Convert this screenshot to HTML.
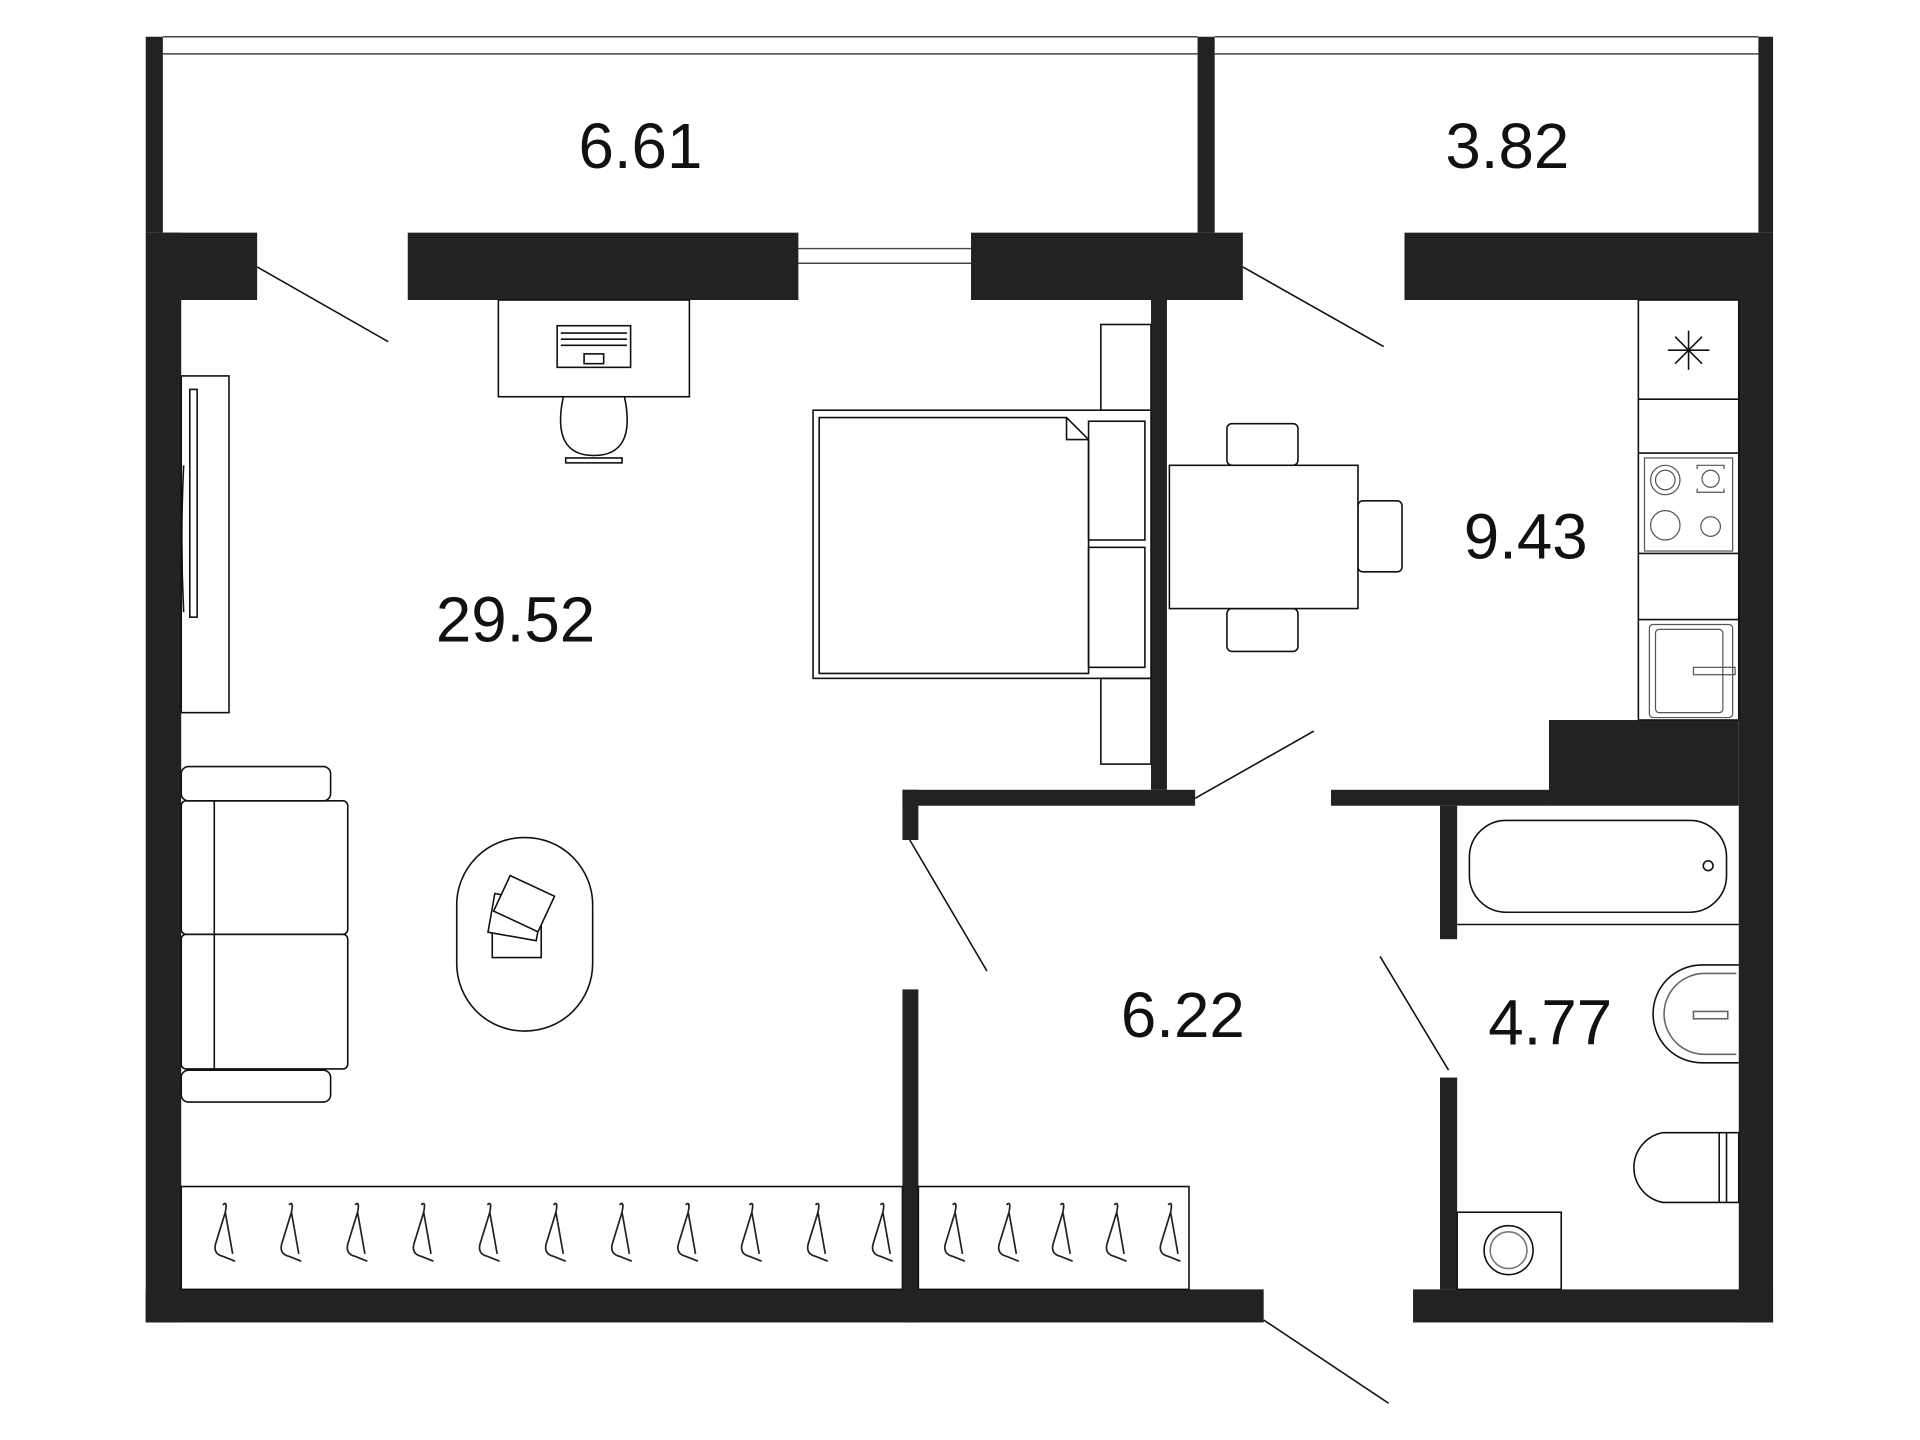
<!DOCTYPE html>
<html><head><meta charset="utf-8"><style>html,body{margin:0;padding:0;background:#fff}svg{display:block}</style></head>
<body>
<svg width="1920" height="1440" viewBox="0 0 1568 1176" xmlns="http://www.w3.org/2000/svg">
<defs>
<path id="h" d="M0 0 L-8 26 Q-10 34 -2 36 L8 40 M0 0 L6 34 M-2 -6 Q2 -10 0 0"/>
</defs>
<rect width="1568" height="1176" fill="#fff"/>
<g fill="#222">
<rect x="119" y="30" width="14" height="160"/>
<rect x="119" y="190" width="29" height="890"/>
<rect x="133" y="190" width="77" height="55"/>
<rect x="333" y="190" width="319" height="55"/>
<rect x="793" y="190" width="222" height="55"/>
<rect x="978" y="30" width="14" height="160"/>
<rect x="1147" y="190" width="301" height="55"/>
<rect x="1436" y="30" width="12" height="160"/>
<rect x="1420" y="245" width="28" height="835"/>
<rect x="940" y="245" width="13" height="400"/>
<rect x="737" y="645" width="239" height="13"/>
<rect x="737" y="645" width="13" height="41"/>
<rect x="737" y="808" width="13" height="272"/>
<rect x="1087" y="645" width="178" height="13"/>
<rect x="1265" y="588" width="155" height="70"/>
<rect x="1176" y="658" width="14" height="109"/>
<rect x="1176" y="880" width="14" height="173"/>
<rect x="119" y="1053" width="913" height="27"/>
<rect x="1154" y="1053" width="294" height="27"/>
</g>
<g stroke="#444" stroke-width="1.2" fill="none">
<line x1="133" y1="30" x2="978" y2="30"/><line x1="133" y1="44" x2="978" y2="44"/>
<line x1="992" y1="30" x2="1436" y2="30"/><line x1="992" y1="44" x2="1436" y2="44"/>
<line x1="652" y1="203" x2="793" y2="203"/><line x1="652" y1="215" x2="793" y2="215"/>
</g>
<g stroke="#111" stroke-width="1.3" fill="none">
<line x1="210" y1="218" x2="317" y2="279"/>
<line x1="1015" y1="218" x2="1130" y2="283"/>
<line x1="976" y1="652" x2="1073" y2="597"/>
<line x1="743" y1="686" x2="806" y2="793"/>
<line x1="1127" y1="781" x2="1183" y2="874"/>
<line x1="1032" y1="1078" x2="1134" y2="1146"/>
<rect x="407" y="245" width="156" height="79"/>
<rect x="455" y="266" width="60" height="34"/>
<line x1="458" y1="272" x2="512" y2="272"/><line x1="458" y1="277" x2="512" y2="277"/><line x1="458" y1="282" x2="512" y2="282"/>
<rect x="477" y="289" width="16" height="8"/>
<path d="M460 324 Q450 372 485 372 Q520 372 510 324"/>
<rect x="462" y="374" width="46" height="4"/>
<rect x="148" y="307" width="39" height="275"/>
<rect x="155" y="318" width="6" height="186"/>
<path d="M150 380 Q147 440 150 500"/>
<rect x="899" y="265" width="41" height="70"/>
<rect x="899" y="554" width="41" height="70"/>
<rect x="664" y="335" width="276" height="219"/>
<path d="M669 341 H871 L889 359 V550 H669 Z"/>
<path d="M871 341 V359 H889"/>
<rect x="889" y="344" width="46" height="97"/>
<rect x="889" y="447" width="46" height="98"/>
<rect x="1002" y="346" width="58" height="34" rx="4"/>
<rect x="1002" y="497" width="58" height="35" rx="4"/>
<rect x="1109" y="409" width="36" height="58" rx="4"/>
<rect x="955" y="380" width="154" height="117" fill="#fff"/>
<rect x="1338" y="245" width="82" height="343"/>
<line x1="1338" y1="326" x2="1420" y2="326"/>
<line x1="1338" y1="370" x2="1420" y2="370"/>
<line x1="1338" y1="452" x2="1420" y2="452"/>
<line x1="1338" y1="506" x2="1420" y2="506"/>
<line x1="1362" y1="286" x2="1396" y2="286"/><line x1="1379" y1="270" x2="1379" y2="302"/>
<line x1="1368" y1="275" x2="1390" y2="297"/><line x1="1390" y1="275" x2="1368" y2="297"/>
<g stroke="#555" stroke-width="1">
<rect x="1343" y="374" width="72" height="76"/>
<circle cx="1360" cy="392" r="12"/><circle cx="1360" cy="392" r="8"/>
<circle cx="1397" cy="391" r="7"/>
<path d="M1386 383 V380 H1408 V383 M1386 399 V402 H1408 V399"/>
<circle cx="1360" cy="429" r="12"/><circle cx="1397" cy="430" r="8"/>
<rect x="1347" y="510" width="68" height="76" rx="3"/>
<rect x="1352" y="514" width="55" height="68" rx="3"/>
<rect x="1383" y="545" width="34" height="6"/>
</g>
<rect x="148" y="626" width="122" height="28" rx="6"/>
<rect x="148" y="874" width="122" height="26" rx="6"/>
<rect x="148" y="654" width="136" height="109" rx="4"/>
<rect x="148" y="763" width="136" height="110" rx="4"/>
<line x1="175" y1="654" x2="175" y2="873"/>
<rect x="373" y="684" width="111" height="158" rx="55"/>
<g fill="#fff">
<rect x="402" y="750" width="40" height="32"/>
<rect x="401" y="733" width="40" height="32" transform="rotate(10 421 749)"/>
<rect x="408" y="722" width="40" height="32" transform="rotate(25 428 738)"/>
</g>
<rect x="148" y="969" width="589" height="84"/>
<rect x="750" y="969" width="221" height="84"/>
<line x1="1190" y1="755" x2="1420" y2="755"/>
<rect x="1200" y="670" width="210" height="75" rx="30"/>
<circle cx="1395" cy="707" r="4"/>
<path d="M1420 788 H1390 A40 40 0 0 0 1390 868 H1420"/>
<path d="M1418 795 H1392 A33 33 0 0 0 1392 861 H1418" stroke="#666"/>
<rect x="1383" y="826" width="28" height="6" stroke="#666"/>
<path d="M1420 925 H1358 A29 29 0 0 0 1358 982 H1420 Z"/>
<line x1="1404" y1="925" x2="1404" y2="982"/><line x1="1410" y1="925" x2="1410" y2="982"/>
<rect x="1190" y="990" width="85" height="63"/>
<circle cx="1232" cy="1021" r="20"/><circle cx="1232" cy="1021" r="15" stroke="#777"/>
</g>
<g stroke="#222" stroke-width="1.4" fill="none">
<use href="#h" x="184" y="990"/><use href="#h" x="238" y="990"/><use href="#h" x="292" y="990"/>
<use href="#h" x="346" y="990"/><use href="#h" x="400" y="990"/><use href="#h" x="454" y="990"/>
<use href="#h" x="508" y="990"/><use href="#h" x="562" y="990"/><use href="#h" x="614" y="990"/>
<use href="#h" x="668" y="990"/><use href="#h" x="721" y="990"/>
<use href="#h" x="780" y="990"/><use href="#h" x="824" y="990"/><use href="#h" x="868" y="990"/>
<use href="#h" x="912" y="990"/><use href="#h" x="956" y="990"/>
</g>
<g font-family="Liberation Sans, DejaVu Sans, sans-serif" font-size="52" fill="#111" text-anchor="middle">
<text x="523" y="137">6.61</text>
<text x="1231" y="137">3.82</text>
<text x="421" y="524">29.52</text>
<text x="1246" y="456">9.43</text>
<text x="966" y="847">6.22</text>
<text x="1266" y="853">4.77</text>
</g>
</svg>
</body></html>
